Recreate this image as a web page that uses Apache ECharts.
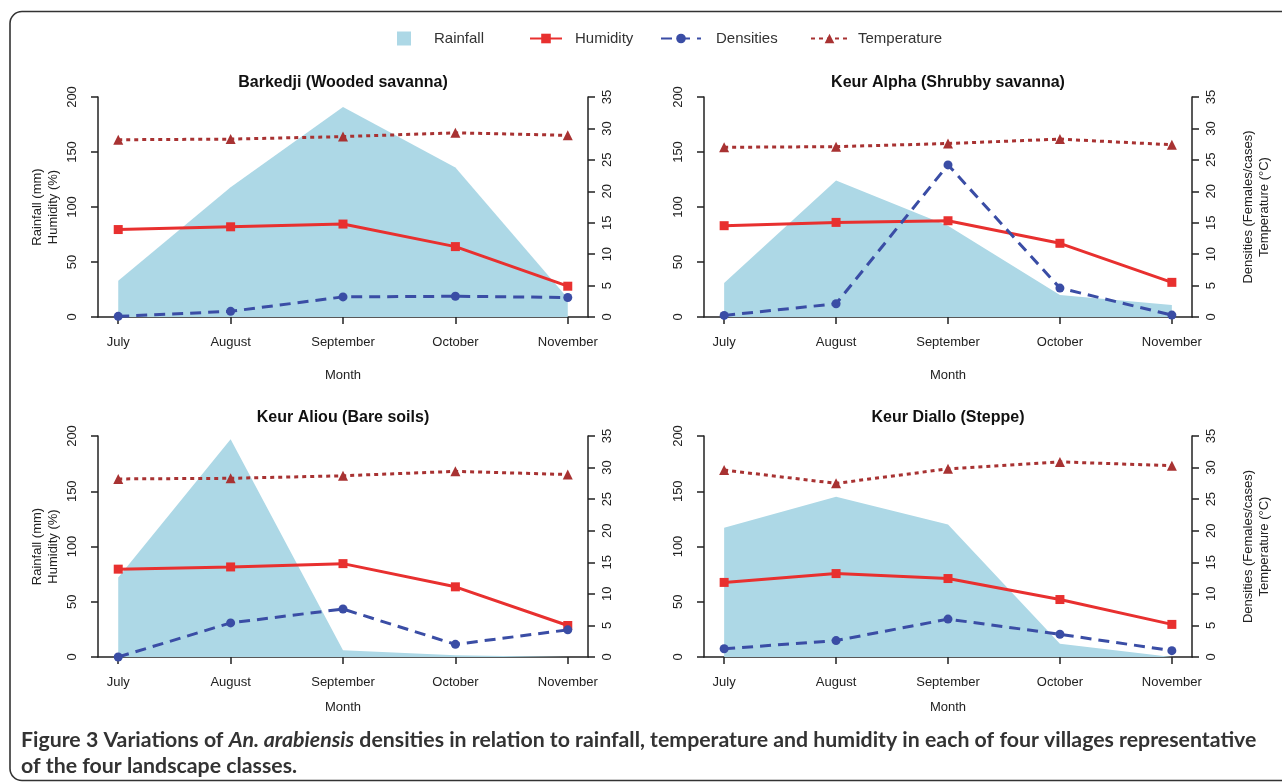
<!DOCTYPE html>
<html><head><meta charset="utf-8">
<script src="https://cdn.jsdelivr.net/npm/echarts@6/dist/echarts.min.js"></script>
<style>html,body{margin:0;padding:0;background:#fff}#c{width:1282px;height:783px}</style>
</head><body><div id="c"></div>
<script>
// ---------- data ----------
const months = ['July', 'August', 'September', 'October', 'November'];
const panelTitles = ['Barkedji (Wooded savanna)', 'Keur Alpha (Shrubby savanna)', 'Keur Aliou (Bare soils)', 'Keur Diallo (Steppe)'];
const leftAxisTicks = [0, 50, 100, 150, 200];
const rightAxisTicks = [0, 5, 10, 15, 20, 25, 30, 35];

const rainfallBarkedji = [33, 118, 191, 136, 17];
const humidityBarkedji = [79.5, 82, 84.5, 64, 28];
const densitiesBarkedji = [0.1, 0.9, 3.2, 3.3, 3.1];
const temperatureBarkedji = [28.2, 28.3, 28.7, 29.3, 28.9];

const rainfallKeurAlpha = [31, 124, 83, 20, 11];
const humidityKeurAlpha = [83, 86, 87.5, 67, 31.5];
const densitiesKeurAlpha = [0.25, 2.1, 24.2, 4.6, 0.3];
const temperatureKeurAlpha = [27.0, 27.1, 27.6, 28.3, 27.4];

const rainfallKeurAliou = [72, 197, 6, 1.5, 0];
const humidityKeurAliou = [79.5, 81.5, 84.5, 63.5, 28.5];
const densitiesKeurAliou = [0, 5.4, 7.6, 2.0, 4.3];
const temperatureKeurAliou = [28.2, 28.3, 28.7, 29.4, 28.9];

const rainfallKeurDiallo = [117, 145, 120, 12, 0];
const humidityKeurDiallo = [67.5, 75.5, 71, 52, 29.5];
const densitiesKeurDiallo = [1.3, 2.6, 6.0, 3.6, 1.0];
const temperatureKeurDiallo = [29.6, 27.5, 29.8, 30.9, 30.3];

// ---------- layout / style ----------
const panels = [
  { rain: rainfallBarkedji, hum: humidityBarkedji, dens: densitiesBarkedji, temp: temperatureBarkedji },
  { rain: rainfallKeurAlpha, hum: humidityKeurAlpha, dens: densitiesKeurAlpha, temp: temperatureKeurAlpha },
  { rain: rainfallKeurAliou, hum: humidityKeurAliou, dens: densitiesKeurAliou, temp: temperatureKeurAliou },
  { rain: rainfallKeurDiallo, hum: humidityKeurDiallo, dens: densitiesKeurDiallo, temp: temperatureKeurDiallo }
];
const gridPos = [
  { left: 98, width: 490, top: 97, height: 220 },
  { left: 704, width: 488, top: 97, height: 220 },
  { left: 98, width: 490, top: 436, height: 221 },
  { left: 704, width: 488, top: 436, height: 221 }
];
const titleY = [83, 83, 418, 418];
const monthNameGap = [52, 52, 44, 44];

const C_RAIN = '#ADD8E6', C_HUM = '#E8302F', C_DENS = '#3A4DA5', C_TEMP = '#A83232';
const AX = '#222';
const FONT = 'Liberation Sans, Arial, sans-serif';
const monthIdx = months.map((m, i) => i);
const toPairs = arr => arr.map((v, i) => [i, v]);

const grid = [], xAxis = [], yAxis = [], series = [], graphic = [];

panels.forEach((p, k) => {
  const g = gridPos[k];
  grid.push({ left: g.left, width: g.width, top: g.top, height: g.height, containLabel: false });
  xAxis.push({
    gridIndex: k, type: 'value', min: -0.18, max: 4.18,
    splitLine: { show: false },
    axisLine: { show: true, onZero: false, lineStyle: { color: AX, width: 1.5 } },
    axisTick: { show: true, length: 7, customValues: monthIdx, lineStyle: { color: AX, width: 1.5 } },
    axisLabel: { customValues: monthIdx, formatter: v => months[v], margin: 19, fontSize: 13, color: '#222', fontFamily: FONT },
    name: 'Month', nameLocation: 'middle', nameGap: monthNameGap[k],
    nameTextStyle: { fontSize: 13, color: '#222', fontFamily: FONT }
  });
  const leftName = (k % 2 === 0) ? 'Rainfall (mm)\nHumidity (%)' : '';
  const rightName = (k % 2 === 1) ? 'Densities (Females/cases)\nTemperature (°C)' : '';
  yAxis.push({
    gridIndex: k, type: 'value', position: 'left',
    min: leftAxisTicks[0], max: leftAxisTicks[leftAxisTicks.length - 1], interval: leftAxisTicks[1] - leftAxisTicks[0],
    splitLine: { show: false },
    axisLine: { show: true, onZero: false, lineStyle: { color: AX, width: 1.5 } },
    axisTick: { show: true, length: 7, lineStyle: { color: AX, width: 1.5 } },
    axisLabel: { rotate: 90, margin: 19, fontSize: 13, color: '#222', fontFamily: FONT },
    name: leftName, nameLocation: 'middle', nameRotate: 90, nameGap: 37,
    nameTextStyle: { fontSize: 13, lineHeight: 16, color: '#222', fontFamily: FONT, align: 'center' }
  });
  yAxis.push({
    gridIndex: k, type: 'value', position: 'right',
    min: rightAxisTicks[0], max: rightAxisTicks[rightAxisTicks.length - 1], interval: rightAxisTicks[1] - rightAxisTicks[0],
    splitLine: { show: false },
    axisLine: { show: true, onZero: false, lineStyle: { color: AX, width: 1.5 } },
    axisTick: { show: true, length: 7, lineStyle: { color: AX, width: 1.5 } },
    axisLabel: { rotate: 90, margin: 13, fontSize: 13, color: '#222', fontFamily: FONT },
    name: rightName, nameLocation: 'middle', nameRotate: 90, nameGap: 48,
    nameTextStyle: { fontSize: 13, lineHeight: 16, color: '#222', fontFamily: FONT, align: 'center' }
  });
  series.push({
    name: 'Rainfall', type: 'line', xAxisIndex: k, yAxisIndex: 2 * k, data: toPairs(p.rain),
    symbol: 'none', lineStyle: { width: 0 }, itemStyle: { color: C_RAIN },
    areaStyle: { color: C_RAIN, opacity: 1 }, z: 1, silent: true
  });
  series.push({
    name: 'Humidity', type: 'line', xAxisIndex: k, yAxisIndex: 2 * k, data: toPairs(p.hum),
    symbol: 'rect', symbolSize: 9, lineStyle: { width: 3, color: C_HUM }, itemStyle: { color: C_HUM }, z: 3
  });
  series.push({
    name: 'Densities', type: 'line', xAxisIndex: k, yAxisIndex: 2 * k + 1, data: toPairs(p.dens),
    symbol: 'circle', symbolSize: 9, lineStyle: { width: 3, color: C_DENS, type: [11, 7] }, itemStyle: { color: C_DENS }, z: 4
  });
  series.push({
    name: 'Temperature', type: 'line', xAxisIndex: k, yAxisIndex: 2 * k + 1, data: toPairs(p.temp),
    symbol: 'triangle', symbolSize: 10, lineStyle: { width: 3, color: C_TEMP, type: [4, 4] }, itemStyle: { color: C_TEMP }, z: 4
  });
  graphic.push({
    type: 'text', x: g.left + g.width / 2, y: titleY[k], z: 10,
    style: { text: panelTitles[k], font: 'bold 16px ' + FONT, fill: '#111', align: 'center', verticalAlign: 'middle' }
  });
});

// caption, fit to width
const capLine1 = 'Figure 3 Variations of An. arabiensis densities in relation to rainfall, temperature and humidity in each of four villages representative';
const capFont = 'Lato, Noto Sans, sans-serif';
const cv = document.createElement('canvas').getContext('2d');
cv.font = 'bold 17px ' + capFont;
let capSize = 17 * 1240 / cv.measureText(capLine1).width;
capSize = Math.round(capSize * 10) / 10;
const capRich = {
  b: { fontSize: capSize, fontWeight: 'bold', fontFamily: capFont, fill: '#333', lineHeight: 26 },
  i: { fontSize: capSize, fontWeight: 'bold', fontStyle: 'italic', fontFamily: capFont, fill: '#333', lineHeight: 26 }
};
graphic.push({
  type: 'text', x: 21, y: 727, z: 10,
  style: {
    text: '{b|Figure 3 Variations of }{i|An. arabiensis}{b| densities in relation to rainfall, temperature and humidity in each of four villages representative}\n{b|of the four landscape classes.}',
    rich: capRich, verticalAlign: 'top', align: 'left'
  }
});
// frame
graphic.push({
  type: 'rect', z: 0, silent: true,
  shape: { x: 10, y: 11.5, width: 1300, height: 769, r: 12 },
  style: { fill: 'none', stroke: '#333', lineWidth: 1.6 }
});

const legTxt = { fontSize: 15, color: '#333', fontFamily: FONT };
const legTop = 31;
const legend = [
  { data: [{ name: 'Rainfall', icon: 'rect' }], left: 397, top: legTop, padding: 0, itemWidth: 14, itemHeight: 14, textStyle: Object.assign({ padding: [0, 0, 0, 18] }, legTxt), selectedMode: false },
  { data: ['Humidity'], left: 529, top: legTop, padding: 0, itemWidth: 32, itemHeight: 12, textStyle: Object.assign({ padding: [0, 0, 0, 8] }, legTxt), selectedMode: false },
  { data: ['Densities'], left: 660, top: legTop, padding: 0, itemWidth: 40, itemHeight: 12, textStyle: Object.assign({ padding: [0, 0, 0, 10] }, legTxt), selectedMode: false },
  { data: ['Temperature'], left: 810, top: legTop, padding: 0, itemWidth: 37, itemHeight: 12, textStyle: Object.assign({ padding: [0, 0, 0, 5] }, legTxt), selectedMode: false }
];

const chart = echarts.init(document.getElementById('c'), null, { renderer: 'canvas' });
chart.setOption({
  animation: false,
  backgroundColor: '#fff',
  grid, xAxis, yAxis, series, legend, graphic
});
</script></body></html>
